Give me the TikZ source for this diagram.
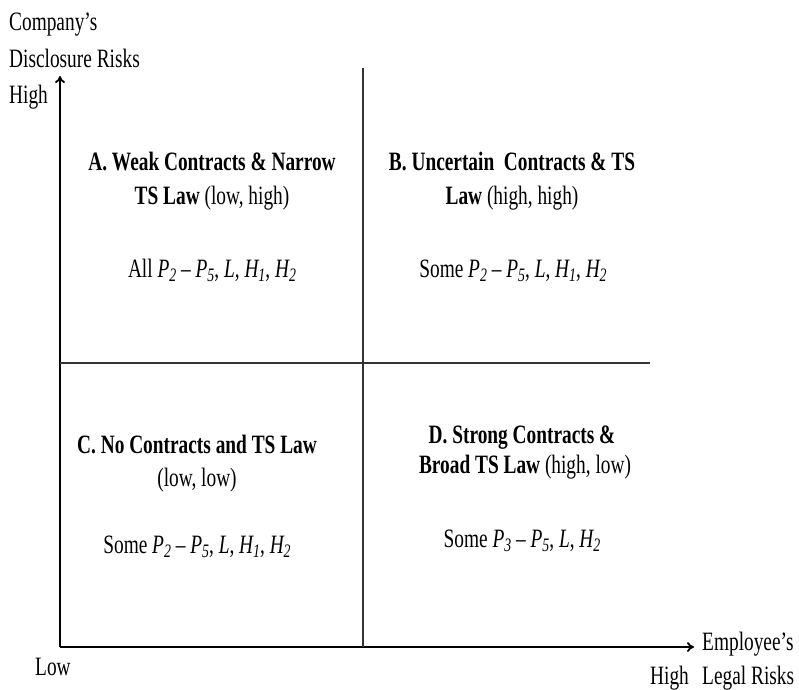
\documentclass[tikz,border=0pt]{standalone}
\usepackage{fontspec}
\setmainfont{Liberation Serif}[FakeStretch=0.73]
\usetikzlibrary{arrows.meta}
\newcommand\vv[2]{\textit{#1\raisebox{-4.5pt}{\fontsize{19}{19}\selectfont #2}}}
\tikzset{
  lbl/.style={inner sep=0pt, font=\fontsize{26.5}{34}\selectfont},
  axis/.style={line width=1.8pt, -{To[length=7pt,width=10pt]}},
  divider/.style={line width=1.5pt, draw=black!80},
}
\begin{document}
\begin{tikzpicture}[x=1pt,y=-1pt]
\useasboundingbox (0,0) rectangle (799,689);
% axes
\coordinate (O) at (60,647);
\coordinate (ytop) at (60,76);
\coordinate (xend) at (694,647);
\draw[axis] (O) -- (ytop);
\draw[axis] (O) -- (xend);
% dividers
\coordinate (vtop) at (363,68);
\coordinate (vbot) at (363,647);
\coordinate (hl) at (60,363);
\coordinate (hr) at (650,363);
\draw[divider] (vtop) -- (vbot);
\draw[divider] (hl) -- (hr);
% axis labels
\node[lbl, anchor=base west] (yl1) at (9,30) {Company's};
\node[lbl, anchor=base west] (yl2) at (9,67) {Disclosure Risks};
\node[lbl, anchor=base west] (yhigh) at (9,103) {High};
\node[lbl, anchor=base west] (xlow) at (35,675) {Low};
\node[lbl, anchor=base west] (xhigh) at (650,684) {High};
\node[lbl, anchor=base west] (xl1) at (702,650) {Employee's};
\node[lbl, anchor=base west] (xl2) at (702,684) {Legal Risks};
% quadrant A
\node[lbl, anchor=base] (a1) at (212,170) {\textbf{A. Weak Contracts \& Narrow}};
\node[lbl, anchor=base] (a2) at (212,204) {\textbf{TS Law} (low, high)};
\node[lbl, anchor=base] (a3) at (212,277) {All \vv{P}{2} – \vv{P}{5}, \textit{L}, \vv{H}{1}, \vv{H}{2}};
% quadrant B
\node[lbl, anchor=base] (b1) at (512,170) {\textbf{B. Uncertain\ \ Contracts \& TS}};
\node[lbl, anchor=base] (b2) at (512,204) {\textbf{Law} (high, high)};
\node[lbl, anchor=base] (b3) at (513,277) {Some \vv{P}{2} – \vv{P}{5}, \textit{L}, \vv{H}{1}, \vv{H}{2}};
% quadrant C
\node[lbl, anchor=base] (c1) at (197,453) {\textbf{C. No Contracts and TS Law}};
\node[lbl, anchor=base] (c2) at (197,486) {(low, low)};
\node[lbl, anchor=base] (c3) at (197,553) {Some \vv{P}{2} – \vv{P}{5}, \textit{L}, \vv{H}{1}, \vv{H}{2}};
% quadrant D
\node[lbl, anchor=base] (d1) at (522,443) {\textbf{D. Strong Contracts \&}};
\node[lbl, anchor=base] (d2) at (525,473) {\textbf{Broad TS Law} (high, low)};
\node[lbl, anchor=base] (d3) at (522,547) {Some \vv{P}{3} – \vv{P}{5}, \textit{L}, \vv{H}{2}};
\end{tikzpicture}
\end{document}
